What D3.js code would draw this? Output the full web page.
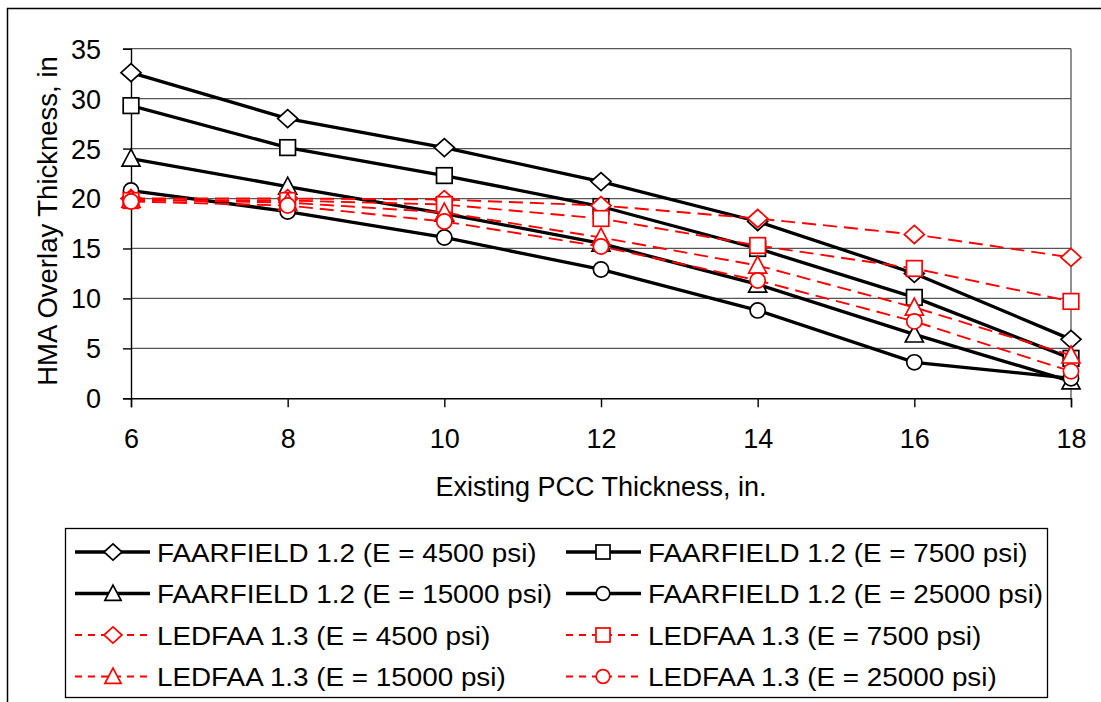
<!DOCTYPE html>
<html><head><meta charset="utf-8">
<script src="https://cdn.jsdelivr.net/npm/d3@7"></script>
<style>body{margin:0;background:#fff;} text{font-family:"Liberation Sans",Arial,sans-serif;}</style>
</head><body>
<svg id="c" width="1101" height="702"></svg>
<script>
const xValues = [6, 8, 10, 12, 14, 16, 18];
const xTicks = [6, 8, 10, 12, 14, 16, 18];
const yTicks = [0, 5, 10, 15, 20, 25, 30, 35];
const seriesNames = [
  "FAARFIELD 1.2 (E = 4500 psi)", "FAARFIELD 1.2 (E = 7500 psi)",
  "FAARFIELD 1.2 (E = 15000 psi)", "FAARFIELD 1.2 (E = 25000 psi)",
  "LEDFAA 1.3 (E = 4500 psi)", "LEDFAA 1.3 (E = 7500 psi)",
  "LEDFAA 1.3 (E = 15000 psi)", "LEDFAA 1.3 (E = 25000 psi)"];
const faar4500 = [32.6, 28.0, 25.1, 21.7, 17.7, 12.5, 5.9];
const faar7500 = [29.3, 25.1, 22.3, 19.2, 15.0, 10.1, 4.0];
const faar15000 = [24.0, 21.2, 18.5, 15.5, 11.4, 6.4, 1.7];
const faar25000 = [20.8, 18.7, 16.1, 12.9, 8.8, 3.6, 2.0];
const led4500 = [20.0, 20.0, 19.9, 19.3, 18.0, 16.4, 14.1];
const led7500 = [19.8, 19.8, 19.4, 18.0, 15.3, 13.0, 9.7];
const led15000 = [19.9, 19.6, 18.6, 16.1, 13.3, 9.1, 4.3];
const led25000 = [19.7, 19.3, 17.7, 15.2, 11.8, 7.7, 2.7];
const seriesValues = [faar4500, faar7500, faar15000, faar25000, led4500, led7500, led15000, led25000];
const seriesShapes = ["diamond", "square", "triangle", "circle", "diamond", "square", "triangle", "circle"];

const svg = d3.select("#c");
const FONT = "'Liberation Sans', Arial, sans-serif";
// outer border
svg.append("rect").attr("x", 7.5).attr("y", 8.5).attr("width", 1100).attr("height", 700)
  .attr("fill", "none").attr("stroke", "#000").attr("stroke-width", 1.5);

const L = 131, R = 1071, T = 48.7, B = 398.3;
const x = d3.scaleLinear().domain([6, 18]).range([L, R]);
const y = d3.scaleLinear().domain([0, 35]).range([B, T]);

// gridlines
svg.append("g").selectAll("line").data(yTicks.filter(d => d > 0)).join("line")
  .attr("x1", L).attr("x2", R).attr("y1", d => y(d)).attr("y2", d => y(d))
  .attr("stroke", "#555").attr("stroke-width", 1.3);
svg.append("line").attr("x1", R).attr("x2", R).attr("y1", T).attr("y2", B)
  .attr("stroke", "#555").attr("stroke-width", 1.3);

// axes
const yAxis = d3.axisLeft(y).tickValues(yTicks).tickSize(8).tickPadding(22);
const gy = svg.append("g").attr("transform", `translate(${L},0)`).call(yAxis);
const xAxis = d3.axisBottom(x).tickValues(xTicks).tickSize(9);
const gx = svg.append("g").attr("transform", `translate(0,${B})`).call(xAxis);
[gy, gx].forEach(g => {
  g.select(".domain").attr("stroke", "#000").attr("stroke-width", 1.4);
  g.selectAll(".tick line").attr("stroke", "#000").attr("stroke-width", 1.4);
  g.selectAll("text").attr("font-size", 27).attr("fill", "#000").style("font-family", FONT);
});
gx.selectAll("text").attr("y", 50).attr("dy", 0);
gy.selectAll("text").attr("dy", "0.35em");

svg.append("text").attr("x", 601).attr("y", 496).attr("text-anchor", "middle")
  .attr("font-size", 27).text("Existing PCC Thickness, in.");
svg.append("text").attr("transform", "translate(57,221) rotate(-90)").attr("text-anchor", "middle")
  .attr("font-size", 27.5).text("HMA Overlay Thickness, in");

function marker(g, shape, cx, cy, k, color) {
  let el;
  if (shape === "diamond") {
    const w = 10 * k, h = 9 * k;
    el = g.append("path").attr("d", `M${cx},${cy - h}L${cx + w},${cy}L${cx},${cy + h}L${cx - w},${cy}Z`);
  } else if (shape === "square") {
    const h = 7.8 * k;
    el = g.append("rect").attr("x", cx - h).attr("y", cy - h).attr("width", 2 * h).attr("height", 2 * h);
  } else if (shape === "triangle") {
    const w = 9 * k, h = 17 * k;
    el = g.append("path").attr("d", `M${cx},${cy - h * 0.55}L${cx + w},${cy + h * 0.45}L${cx - w},${cy + h * 0.45}Z`);
  } else {
    el = g.append("circle").attr("cx", cx).attr("cy", cy).attr("r", 7.6 * k);
  }
  el.attr("fill", "#fff").attr("stroke", color).attr("stroke-width", 1.7);
}

const line = d3.line().x((d, i) => x(xValues[i])).y(d => y(d));
seriesValues.forEach((vals, si) => {
  const red = si >= 4;
  const color = red ? "#ff0000" : "#000";
  const g = svg.append("g");
  g.append("path").attr("d", line(vals)).attr("fill", "none").attr("stroke", color)
    .attr("stroke-width", red ? 1.9 : 3.3)
    .attr("stroke-dasharray", red ? "14,7" : null);
  vals.forEach((v, i) => marker(g, seriesShapes[si], x(xValues[i]), y(v), 1, color));
});

// legend
svg.append("rect").attr("x", 65.5).attr("y", 528.5).attr("width", 982).attr("height", 169)
  .attr("fill", "#fff").attr("stroke", "#000").attr("stroke-width", 1.3);
const rowY = [552, 593.5, 635, 676.5];
const colLine = [[75, 150, 113, 157], [566, 641, 603, 648]];
seriesNames.forEach((name, si) => {
  const col = si % 2;
  const row = Math.floor(si / 2);
  const red = si >= 4;
  const color = red ? "#ff0000" : "#000";
  const [x1, x2, mx, tx] = colLine[col];
  const ly = rowY[row];
  const g = svg.append("g");
  g.append("line").attr("x1", x1).attr("x2", x2).attr("y1", ly).attr("y2", ly)
    .attr("stroke", color).attr("stroke-width", red ? 1.9 : 3.3)
    .attr("stroke-dasharray", red ? "7,6" : null);
  marker(g, seriesShapes[si], mx, ly, 0.9, color);
  const t = g.append("text").attr("x", tx).attr("y", ly + 9.5).attr("font-size", 26)
    .attr("fill", "#000").text(name);
  const w = t.node().getComputedTextLength();
  t.attr("textLength", w * 1.07).attr("lengthAdjust", "spacingAndGlyphs");
});
</script>
</body></html>
